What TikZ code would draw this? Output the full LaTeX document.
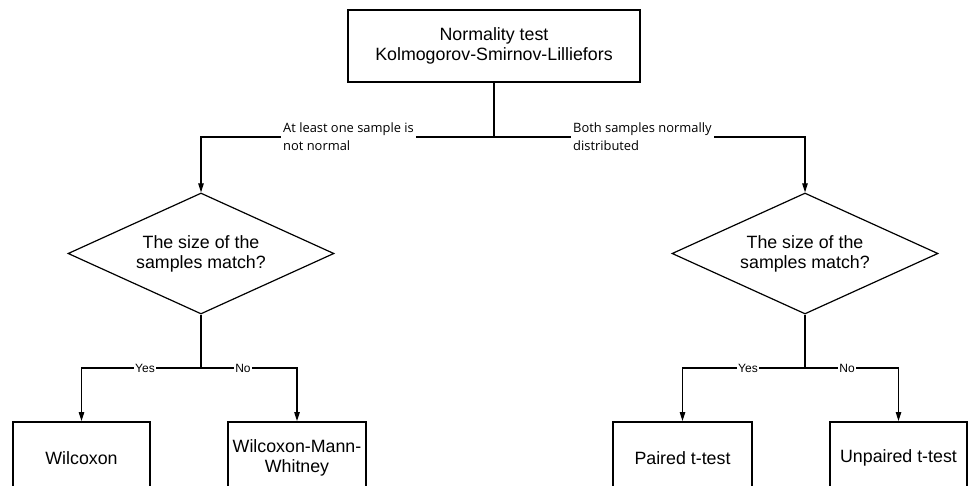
\documentclass[tikz,border=0pt]{standalone}
\usepackage{fontspec}
\setmainfont{Liberation Sans}
\newfontfamily\lblfont{Open Sans}
\usetikzlibrary{shapes.geometric,arrows.meta}
\tikzset{
  boxnode/.style={draw, line width=2pt, minimum width=#1, minimum height=72pt, inner sep=0pt, align=center, font=\fontsize{17.8}{20}\selectfont},
  boxnode/.default=138pt,
  decision/.style={draw, diamond, line width=1.2pt, minimum width=266pt, minimum height=121pt, inner sep=0pt, aspect=2.2, align=center, font=\fontsize{17.8}{20}\selectfont},
  arr/.style={line width=1.1pt, -{Triangle[length=9pt,width=5.5pt]}},
  conn/.style={line width=1.1pt},
  branchlbl/.style={fill=white, inner xsep=2pt, inner ysep=1pt, anchor=west, align=left, font=\lblfont\fontsize{12.9}{18}\selectfont},
  yeslbl/.style={fill=white, inner xsep=1pt, inner ysep=0pt, font=\fontsize{12}{14}\selectfont}
}
\begin{document}
\begin{tikzpicture}[x=1pt,y=-1pt]
\useasboundingbox (0,0) rectangle (969,486);
\clip (0,0) rectangle (969,486);
% nodes
\node[boxnode=292pt] (top) at (494,46) {Normality test\\Kolmogorov-Smirnov-Lilliefors};
\node[decision] (dL) at (201,253.5) {The size of the\\samples match?};
\node[decision] (dR) at (805,253.5) {The size of the\\samples match?};
\node[boxnode=137pt] (wil) at (81.5,458) {Wilcoxon};
\node[boxnode=138pt] (wmw) at (297,458) {Wilcoxon-Mann-\\Whitney};
\node[boxnode=139pt] (pai) at (682.5,458) {Paired t-test};
\node[boxnode=137pt] (unp) at (898.5,458) {Unpaired t-test};
% junctions
\coordinate (j0) at (494,137);
\coordinate (jL) at (201,368);
\coordinate (jR) at (805,368);
% connectors
\draw[conn] (top.south) -- (j0);
\draw[arr] (j0) -| (dL.north);
\draw[arr] (j0) -| (dR.north);
\draw[conn] (dL.south) -- (jL);
\draw[arr] (jL) -| (wil.north);
\draw[arr] (jL) -| (wmw.north);
\draw[conn] (dR.south) -- (jR);
\draw[arr] (jR) -| (pai.north);
\draw[arr] (jR) -| (unp.north);
% labels
\node[branchlbl] (lblL) at (281,137) {At least one sample is\\not normal};
\node[branchlbl] (lblR) at (571,137) {Both samples normally\\distributed};
\node[yeslbl] (yL) at (145,368) {Yes};
\node[yeslbl] (nL) at (243,368) {No};
\node[yeslbl] (yR) at (748,368) {Yes};
\node[yeslbl] (nR) at (847,368) {No};
\end{tikzpicture}
\end{document}
